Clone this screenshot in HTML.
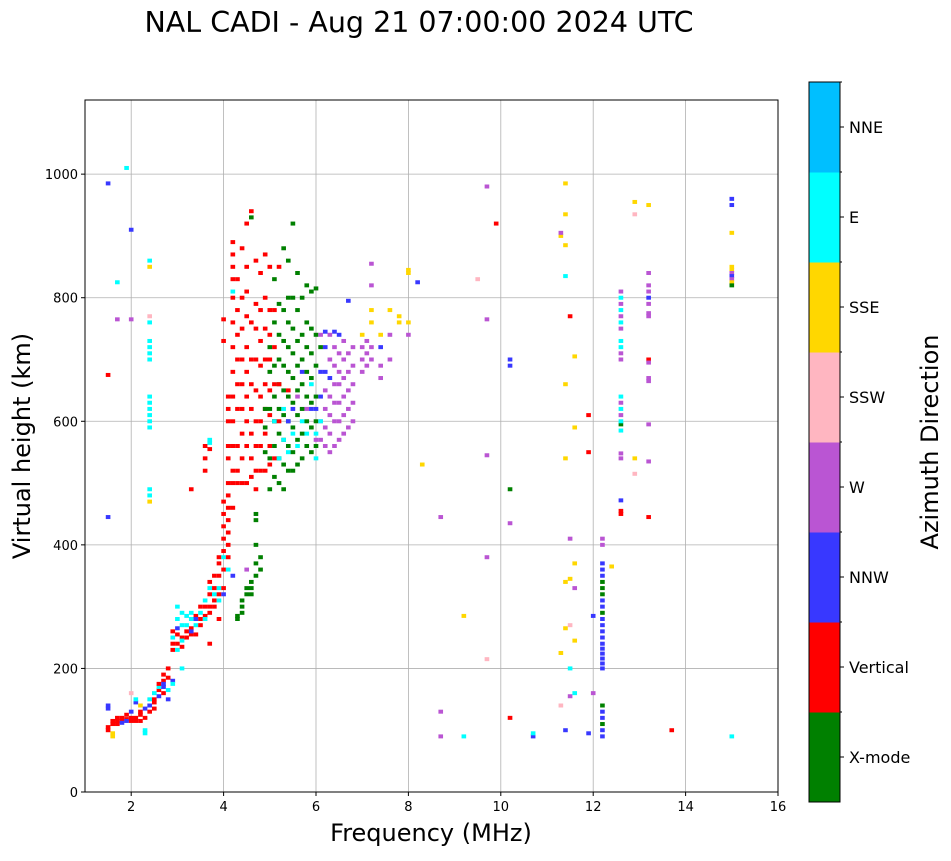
<!DOCTYPE html>
<html><head><meta charset="utf-8"><style>
body{margin:0;background:#fff;}
svg text{font-family:"DejaVu Sans","Liberation Sans",sans-serif;}
</style></head><body>
<svg id="chart" width="951" height="856" xmlns="http://www.w3.org/2000/svg">
<text x="419" y="32" font-size="28.5" text-anchor="middle">NAL CADI - Aug 21 07:00:00 2024 UTC</text>
<g id="grid"></g>
<g id="marks"></g>
<rect x="85" y="100" width="693" height="692" fill="none" stroke="#000" stroke-width="1"/>
<g id="axes"></g>
<text x="431" y="841" font-size="24" text-anchor="middle">Frequency (MHz)</text>
<text transform="translate(30,446) rotate(-90)" font-size="24" text-anchor="middle">Virtual height (km)</text>
<g id="cbar"></g>
<text transform="translate(938,442) rotate(-90)" font-size="24" text-anchor="middle">Azimuth Direction</text>
</svg>
<script>
const xTicks=[2,4,6,8,10,12,14,16];
const yTicks=[0,200,400,600,800,1000];
const modeNames=["X-mode","Vertical","NNW","W","SSW","SSE","E","NNE"];
const modeColors=["#008000","#ff0000","#3838ff","#ba55d3","#ffb6c1","#ffd700","#00ffff","#00bfff"];
const modeKeys="grbpkycs";
const colFreq=[1.5,1.6,1.7,1.8,1.9,2.0,2.1,2.2,2.3,2.4,2.5,2.6,2.7,2.8,2.9,3.0,3.1,3.2,3.3,3.4,3.5,3.6,3.7,3.8,3.9,4.0,4.1,4.2,4.3,4.4,4.5,4.6,4.7,4.8,4.9,5.0,5.1,5.2,5.3,5.4,5.5,5.6,5.7,5.8,5.9,6.0,6.1,6.2,6.3,6.4,6.5,6.6,6.7,6.8,7.0,7.1,7.2,7.4,7.6,7.8,8.0,8.2,8.3,8.7,9.2,9.5,9.7,9.9,10.2,10.7,11.3,11.4,11.5,11.6,11.9,12.0,12.2,12.4,12.6,12.9,13.2,13.7,15.0];
const colHeights=[
[100,105,135,140,985,445,675],
[110,115,95,90],
[115,120,110,825,765],
[120,115,112],
[118,125,115,1010],
[115,120,130,160,910,765],
[120,115,145,150],
[125,130,115,140],
[120,135,95,100],
[130,140,150,470,480,490,590,600,610,620,630,640,700,710,720,730,760,770,850,860],
[150,160,145,135],
[165,170,155,175],
[180,160,175,190,170],
[200,185,165,150],
[230,240,250,260,180,175],
[240,255,230,265,280,300],
[235,250,245,270,290,200],
[250,260,270,285],
[255,265,280,290,260,490],
[255,270,285,280],
[270,280,290,300],
[285,300,310,280,520,540,560],
[290,300,320,330,340,570,565,555,240],
[310,330,350,300,320],
[320,350,370,380,330,310,280],
[330,360,390,410,430,450,470,380,320,730,765],
[400,420,440,460,480,500,540,560,600,620,640,380,360],
[460,500,520,560,600,640,680,720,760,800,830,850,870,890,810,350],
[500,520,560,620,660,700,740,780,830,280,285],
[500,540,580,620,660,700,750,800,880,290,300,310],
[500,560,600,640,680,720,770,810,850,920,320,330,360],
[510,540,580,620,660,700,760,940,930,330,340,320],
[490,520,560,600,650,700,750,790,860,370,350,400,440,450],
[520,560,600,640,690,730,780,840,380,360],
[520,580,620,660,700,750,800,870,550,590,620],
[530,560,610,650,700,740,780,850,490,540,620,680,720],
[540,600,660,720,780,510,560,600,640,690,760,830,600],
[500,540,580,620,660,700,740,790,850,600,660,540],
[490,530,570,610,650,690,730,780,880,570,620],
[520,560,600,640,680,720,760,800,860,550,650,600],
[520,550,590,630,670,710,750,800,920,580,620],
[530,570,610,650,690,730,780,840,560,640],
[540,580,620,660,700,740,800,600,680],
[560,600,640,680,720,760,820,580,620],
[550,590,630,670,710,750,810,620,660],
[560,600,640,690,740,570,620,540,580,815],
[570,600,640,680,720,740,600],
[560,590,620,650,680,720,745],
[550,580,610,640,670,700,740],
[560,600,630,660,690,720,745],
[570,600,630,660,680,710,740],
[580,610,640,670,700,730],
[590,620,650,680,710,795],
[600,630,660,690,720],
[680,700,720,740],
[690,710,730],
[700,720,760,780,820,855],
[690,670,720,740],
[700,740,780],
[760,770],
[740,760,840,845],
[825],
[530],
[445,90,130],
[90,285],
[830],
[980,765,545,380,215],
[920],
[700,690,490,435,120],
[90,95],
[900,905,225,140],
[985,935,885,835,660,540,340,265,100],
[770,410,345,270,200,155],
[705,590,370,330,245,160],
[610,550,95],
[285,160],
[90,100,110,120,130,140,200,208,216,224,232,240,250,260,270,280,290,300,310,320,330,340,350,360,370,400,410],
[365],
[450,455,472,540,548,585,595,600,610,620,630,640,700,710,720,730,750,760,770,780,790,800,810],
[955,935,540,515],
[950,840,820,810,800,790,775,770,700,695,670,665,595,535,445],
[100],
[960,950,905,850,845,840,835,830,825,820,90]
];
const colModes=["rrbbbbr","rryy","rrrcp","rrb","rrbc","rrbkbp","rrbc","rrry","rbcc","rbcyccccccccccccckyc","rcrr","rcbr","rrbrb","rrcb","rrcrbc","rrcbcc","rrcccc","rrcc","rrccbr","rcrb","rrcr","rrccrrr","rrrcrccrr","rrrrc","rrrrccr","rrrrrrrcbrr","rrrrrrrrrrrrc","rrrrrrrrrrrrrrcb","rrrrrrrrrgg","rrrrrrrrrggg","rrrrrrrrrrggp","rrrrrrrrgggg","rrrrrrrrrggggg","rrrrrrrrgg","rrrrrrrrggg","rrrrrrrrggggg","rrrrrgggggggc","ggggggggrrrc","gggggggggcc","gggggggggcrb","gggggggggcb","ggggggggcp","gggggggcb","gggggggcp","gggggggbc","gggggpbccg","ppbbgpc","ppppbbb","ppppbpp","ppppppb","ppppppb","pppppp","pppppb","ppppp","pppy","ppp","ppyypp","ppby","ppy","yy","pyyy","b","y","ppp","cy","k","ppppk","r","bbgpr","bc","ypyk","yyycyyyyb","rpykcp","yyypyc","rrb","bp","bbgbbgbbbbbbbbbbgbbgggbbbpp","y","rrbppcgcpcpcppccpcpcpcp","ykyk","ypppbppprpppppr","r","bbyyypbpygc"];
const fmin=1,fmax=16,hmin=0,hmax=1120;
const L=85,R=778,T=100,B=792;
function xs(f){return L+(f-fmin)/(fmax-fmin)*(R-L);}
function ys(h){return B-(h-hmin)/(hmax-hmin)*(B-T);}
const NS="http://www.w3.org/2000/svg";
function mk(tag,attrs,parent){const e=document.createElementNS(NS,tag);for(const k in attrs)e.setAttribute(k,attrs[k]);parent.appendChild(e);return e;}
const grid=document.getElementById('grid'),axes=document.getElementById('axes'),marks=document.getElementById('marks'),cbar=document.getElementById('cbar');
xTicks.forEach(t=>{
  const x=xs(t);
  const gl=mk('line',{x1:x,x2:x,y1:T,y2:B,stroke:'#b0b0b0','stroke-width':0.8},grid);
  
  
  mk('line',{x1:x,x2:x,y1:B,y2:B+4,stroke:'#000'},axes);
  const tx=mk('text',{x:x,y:B+19,'font-size':13,'text-anchor':'middle'},axes);
  tx.textContent=t;
  
  
});
yTicks.forEach(t=>{
  const y=ys(t);
  const gl=mk('line',{x1:L,x2:R,y1:y,y2:y,stroke:'#b0b0b0','stroke-width':0.8},grid);
  
  
  mk('line',{x1:L-4,x2:L,y1:y,y2:y,stroke:'#000'},axes);
  const tx=mk('text',{x:L-7,y:y+5,'font-size':13,'text-anchor':'end'},axes);
  tx.textContent=t;
  
  
});
const bw=xs(1.1)-xs(1);
colFreq.forEach((f,i)=>{
  const hs=colHeights[i],ms=colModes[i];
  hs.forEach((h,j)=>{
    let k=modeKeys.indexOf(ms[j]||ms[ms.length-1]); if(k<0)k=2;
    const r=mk('rect',{x:xs(f)-bw/2,y:ys(h)-2,width:bw,height:4,fill:modeColors[k]},marks);
    
    
  });
});
const cx=809,cw=31,ct=82,cb=802,seg=(cb-ct)/modeNames.length;
modeNames.forEach((n,i)=>{
  const y0=cb-(i+1)*seg;
  const r=mk('rect',{x:cx,y:y0,width:cw,height:seg+0.5,fill:modeColors[i]},cbar);
  
  
  mk('line',{x1:cx+cw,x2:cx+cw+4,y1:y0+seg/2,y2:y0+seg/2,stroke:'#000'},cbar);
  mk('line',{x1:cx+cw,x2:cx+cw+2,y1:y0,y2:y0,stroke:'#000'},cbar);
  const tx=mk('text',{x:cx+cw+9,y:y0+seg/2+6,'font-size':16},cbar);
  tx.textContent=n;
  
  
});
mk('rect',{x:cx,y:ct,width:cw,height:cb-ct,fill:'none',stroke:'#000'},cbar);
</script>
</body></html>
